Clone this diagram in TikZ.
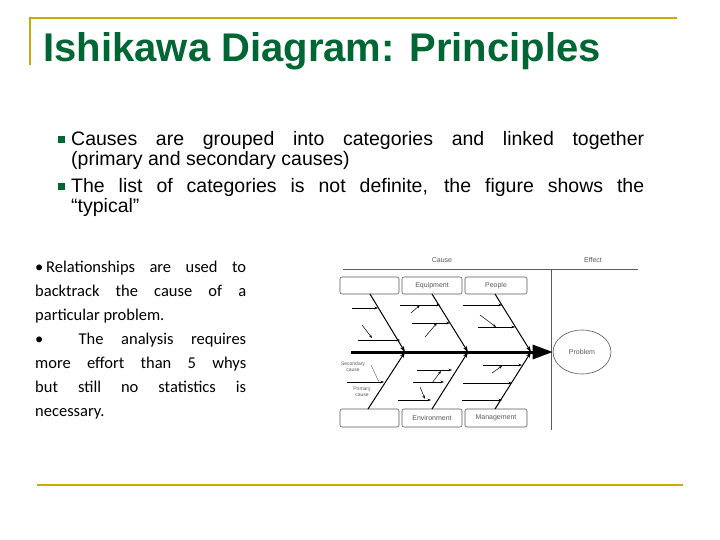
\documentclass[tikz,border=0pt]{standalone}
\usepackage{fontspec}
\setmainfont{Liberation Sans}
\newfontfamily\calib{Carlito}
\usetikzlibrary{arrows.meta,shapes.geometric}
\definecolor{gold}{RGB}{204,170,0}
\definecolor{tgreen}{RGB}{0,102,51}
\definecolor{lgray}{RGB}{90,90,90}
\tikzset{
 box/.style={draw=lgray,rounded corners=2pt,line width=0.6pt},
 bone/.style={line width=1pt,-{Stealth[length=6pt,width=4pt]}},
 sub/.style={line width=0.5pt,-{Stealth[length=3.5pt,width=2.5pt]}},
 lbl/.style={font=\fontsize{7}{8}\selectfont,text=lgray},
 btxt/.style={anchor=north west,text width=573pt,align=justify,font=\fontsize{19.5}{20}\selectfont,inner sep=0pt},
}
\begin{document}
\begin{tikzpicture}[x=1pt,y=-1pt]
\useasboundingbox (0,0) rectangle (720,540);
\fill[white] (0,0) rectangle (720,540);
% frame lines
\draw[gold,line width=2pt] (30,65) coordinate(g1) -- (30,18) coordinate(g2) -- (677,18) coordinate(g3);
\draw[gold,line width=2pt] (37,485) coordinate(g4) -- (683,485) coordinate(g5);
\node[anchor=west,font=\fontsize{40}{44}\bfseries\selectfont,text=tgreen] (title) at (40,51) {Ishikawa Diagram: Principles};
% bullets
\fill[tgreen] (58,136) rectangle (65,143);
\fill[tgreen] (58,183) rectangle (65,190);
\node[btxt] (b1) at (71,131) {Causes are grouped into categories and linked together\linebreak (primary and secondary causes)};
\node[btxt] (b2) at (71,178) {The list of categories is not definite, the figure shows the\linebreak ``typical''};
\node[anchor=north west,text width=211pt,align=justify,font=\calib\fontsize{16.5}{24}\selectfont,inner sep=0pt] (lt) at (35,261) {\textbullet\,Relationships are used to\linebreak backtrack the cause of a\linebreak particular problem.\\ \textbullet\ \ The analysis requires\linebreak more effort than 5 whys\linebreak but still no statistics is\linebreak necessary.};
% fishbone
\node[lbl] (cause) at (442,260) {Cause};
\node[lbl] (effect) at (593,260) {Effect};
\draw[lgray,line width=0.6pt] (343,269) coordinate(h1) -- (638,269) coordinate(h2);
\draw[lgray,line width=0.6pt] (551,269) coordinate(v1) -- (551,430) coordinate(v2);
\node[box,minimum width=59pt,minimum height=17pt] (t1) at (369.5,285.5) {};
\node[box,minimum width=60pt,minimum height=17pt,lbl] (t2) at (432,285.5) {Equipment};
\node[box,minimum width=62pt,minimum height=17pt,lbl] (t3) at (496,285.5) {People};
\node[box,minimum width=59pt,minimum height=18pt] (d1) at (369.5,418) {};
\node[box,minimum width=60pt,minimum height=18pt,lbl] (d2) at (432,418) {Environment};
\node[box,minimum width=62pt,minimum height=18pt,lbl] (d3) at (496,418) {Management};
\node[draw=lgray,ellipse,minimum width=58pt,minimum height=44pt,lbl,line width=0.6pt] (prob) at (582,352) {Problem};
\coordinate (s0) at (351,352);
\draw[line width=3pt,-{Triangle[length=20pt,width=14pt]}] (s0) -- (prob.west);
\coordinate (j1) at (405,352); \coordinate (j2) at (468,352); \coordinate (j3) at (531,352);
\draw[bone] (370,294) -- (j1);
\draw[bone] (432,294) -- (j2);
\draw[bone] (495,294) -- (j3);
\draw[bone] (368,409) -- (j1);
\draw[bone] (432,409) -- (j2);
\draw[bone] (495,409) -- (j3);
% sub causes top
\draw[sub] (352,308) -- (378,308);
\draw[sub] (358,340) -- (400,340);
\draw[sub] (362,325) -- (372,338);
\draw[sub] (400,305) -- (440,305);
\draw[sub] (412,323) -- (450,323);
\draw[sub] (411,313) -- (420,305);
\draw[sub] (425,337) -- (437,323);
\draw[sub] (463,305) -- (502,305);
\draw[sub] (478,327) -- (515,327);
\draw[sub] (480,315) -- (496,327);
% sub causes bottom
\draw[sub] (347,382) -- (384,382);
\draw[lgray,line width=0.4pt] (371,365) -- (379,382);
\node[lbl,font=\fontsize{5}{6}\selectfont,align=center] (sec) at (353,367) {Secondary\\cause};
\node[lbl,font=\fontsize{5}{6}\selectfont,align=center] (pri) at (362,392) {Primary\\cause};
\draw[sub] (417,370) -- (452,370);
\draw[sub] (413,382) -- (444,382);
\draw[sub] (398,400) -- (431,400);
\draw[sub] (432,383) -- (441,371);
\draw[sub] (420,387) -- (425,399);
\draw[sub] (483,365) -- (522,365);
\draw[sub] (463,383) -- (512,383);
\draw[sub] (462,400) -- (502,400);
\draw[sub] (492,373) -- (502,366);
\end{tikzpicture}
\end{document}
